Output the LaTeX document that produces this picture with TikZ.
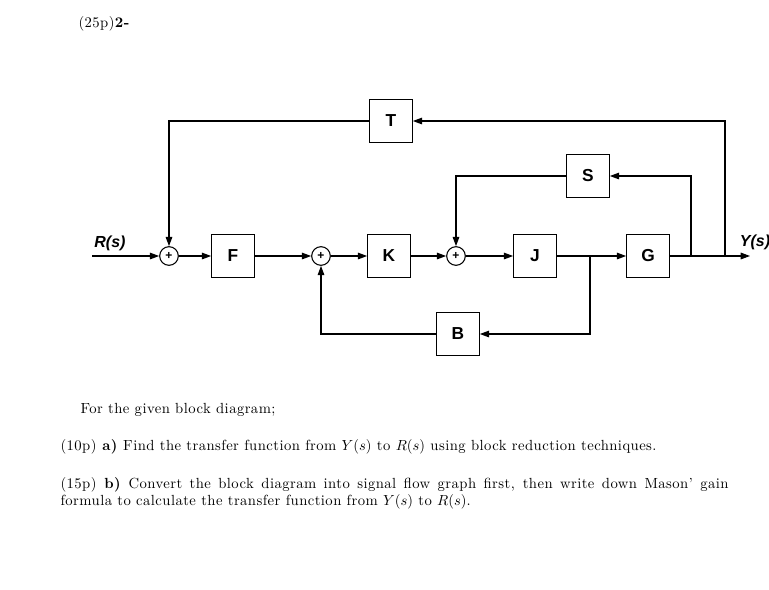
\documentclass[tikz,border=0pt]{standalone}
\usepackage{amsmath}
\usepackage{fontspec}
\setmainfont{Latin Modern Roman}[LetterSpace=3]
\newfontfamily\arialfont{Liberation Sans}
\usetikzlibrary{arrows,arrows.meta,positioning,calc}

\begin{document}
\begin{tikzpicture}[->,>={Triangle[length=7pt,width=5pt]},x=0.75pt,y=-0.75pt,line width=0.8pt]
  \tikzstyle{block}=[draw,rectangle,minimum size=32pt,inner sep=0pt,
                     font=\arialfont\bfseries\fontsize{13}{15}\selectfont]
  \tikzstyle{sum}=[draw,circle,minimum size=14pt,inner sep=0pt,
                   font=\arialfont\bfseries\fontsize{9}{9}\selectfont]
  \tikzstyle{sig}=[font=\arialfont\bfseries\itshape\fontsize{12}{14}\selectfont]
  \tikzstyle{txt}=[anchor=base west,inner sep=0pt,font=\fontsize{11}{12.75}\selectfont]
  \useasboundingbox (0,0) rectangle (769,590);

  \node[sum]   (s1) at (169,256) {+};
  \node[block] (F)  at (233,256) {F};
  \node[sum]   (s2) at (321,256) {+};
  \node[block] (K)  at (389,256) {K};
  \node[sum]   (s3) at (456,256) {+};
  \node[block] (J)  at (535,256) {J};
  \node[block] (G)  at (648,256) {G};
  \node[block] (T)  at (391,121) {T};
  \node[block] (S)  at (588,176) {S};
  \node[block] (B)  at (458,334) {B};

  \coordinate (in)  at (92,256);
  \coordinate (out) at (750,256);
  \coordinate (bj)  at (590,256);
  \coordinate (bs)  at (691,256);
  \coordinate (bt)  at (725,256);

  \node[sig] (Rs) at (110,243) {R(s)};
  \node[sig] (Ys) at (755,242) {Y(s)};

  % forward path
  \draw (in) -- (s1);
  \draw (s1) -- (F);
  \draw (F) -- (s2);
  \draw (s2) -- (K);
  \draw (K) -- (s3);
  \draw (s3) -- (J);
  \draw[-] (J) -- (bj);
  \draw (bj) -- (G);
  \draw (G) -- (out);

  % feedback loops
  \draw (bt) |- (T);
  \draw (T) -| (s1);
  \draw (bs) |- (S);
  \draw (S) -| (s3);
  \draw (bj) |- (B);
  \draw (B) -| (s2);

  % question text
  \node[txt] (title) at (78,27) {(25p)\textbf{2-}};
  \node[txt] (intro) at (80,413) {For the given block diagram;};
  \node[txt] (qa) at (60,450)
    {(10p) \textbf{a)} Find the transfer function from $Y(s)$ to $R(s)$ using block reduction techniques.};
  \node[txt,text width=501pt,align=justify] (qb) at (60,488)
    {(15p) \textbf{b)} Convert the block diagram into signal flow graph first, then write down Mason' gain formula to calculate the transfer function from $Y(s)$ to $R(s)$.};
\end{tikzpicture}
\end{document}
